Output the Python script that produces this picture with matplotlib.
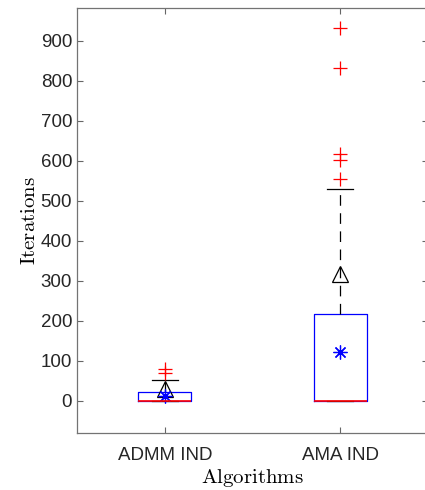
import numpy as np
import matplotlib
matplotlib.use('Agg')
import matplotlib.pyplot as plt

plt.rcParams['font.family'] = ['Liberation Sans', 'DejaVu Sans']
plt.rcParams['mathtext.fontset'] = 'cm'

# iteration counts per algorithm (box summary)
algos = ['ADMM IND', 'AMA IND']
q1 = [0, 0]
med = [0, 0]
q3 = [23, 217]
whislo = [0, 0]
whishi = [52, 530]
fliers = [[70, 80], [555, 602, 618, 832, 932]]
mean_iters = [12, 122]   # asterisk
std_iters = [30, 317]    # triangle

stats = []
for i in range(len(algos)):
    stats.append(dict(label=algos[i], q1=q1[i], med=med[i], q3=q3[i],
                      whislo=whislo[i], whishi=whishi[i], fliers=fliers[i]))

fig = plt.figure(figsize=(4.25, 4.9), dpi=100)
ax = fig.add_axes([77/425, 1-433/490, 351/425, 425/490])

pos = [1, 2]
ax.bxp(stats, positions=pos, widths=0.3, showfliers=True,
       boxprops=dict(color='blue', linewidth=0.9),
       medianprops=dict(color='red', linewidth=1.2, zorder=3),
       whiskerprops=dict(color='black', linewidth=0.9, linestyle=(0, (8.5, 6))),
       capprops=dict(color='black', linewidth=0.9),
       flierprops=dict(marker='+', markeredgecolor='red', markersize=10,
                       markeredgewidth=0.9, linestyle='none'))

ax.plot(pos, std_iters, linestyle='none', marker='^', markersize=11,
        markerfacecolor='none', markeredgecolor='black', markeredgewidth=0.9)
ax.plot(pos, mean_iters, linestyle='none', marker=(8, 2, 0), markersize=10,
        markeredgecolor='blue', color='blue', markeredgewidth=0.9)

ax.set_xlim(0.5, 2.5)
ax.set_ylim(-80, 982)
ax.set_yticks(np.arange(0, 901, 100))
ax.set_xticks(pos)
ax.set_xticklabels(algos)
ax.tick_params(direction='in', top=True, right=True, labelsize=13.5,
               colors='0.4', labelcolor='#262626', length=4, width=0.8)
ax.tick_params(axis='x', pad=10)
for s in ax.spines.values():
    s.set_color('0.45')
    s.set_linewidth(0.9)
ax.spines['right'].set_visible(False)  # lies past the figure edge anyway

ax.set_xlabel(r'$\mathrm{Algorithms}$', fontsize=15, labelpad=2)
ax.set_ylabel(r'$\mathrm{Iterations}$', fontsize=15, labelpad=1)

fig.savefig('out.png', dpi=100)
